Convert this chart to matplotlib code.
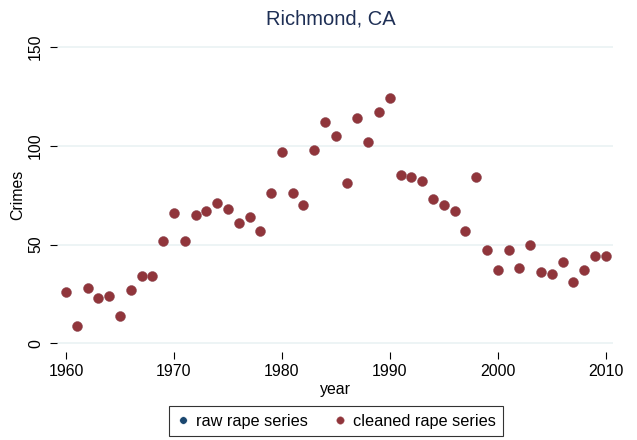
import matplotlib
matplotlib.use("Agg")
import matplotlib.pyplot as plt

plt.rcParams['font.family'] = ['Liberation Sans', 'DejaVu Sans']

# data
years = list(range(1960, 2011))
cleaned = [26, 9, 28, 23, 24, 14, 27, 34, 34, 52,
           66, 52, 65, 67, 71, 68, 61, 64, 57, 76,
           97, 76, 70, 98, 112, 105, 81, 114, 102, 117,
           124, 85, 84, 82, 73, 70, 67, 57, 84, 47,
           37, 47, 38, 50, 36, 35, 41, 31, 37, 44,
           44]
raw = list(cleaned)  # raw series sits under the cleaned one

navy = '#1a476f'
maroon = '#90353b'

fig = plt.figure(figsize=(6.37, 4.4), dpi=100)
ax = fig.add_axes([0.0895, 0.2, 0.873, 0.7136])

ax.plot(years, raw, 'o', color=navy, ms=7.2, mec='white', mew=0.3, label='raw rape series')
ax.plot(years, cleaned, 'o', color=maroon, ms=7.2, mec='#b06a6e', mew=0.3, label='cleaned rape series')

ax.set_xlim(1959.17, 2010.68)
ax.set_ylim(-4.4, 154.6)
ax.set_xticks([1960, 1970, 1980, 1990, 2000, 2010])
ax.set_yticks([0, 50, 100, 150])
ax.set_yticklabels(['0', '50', '100', '150'], rotation=90, va='center')
ax.grid(axis='y', color='#eaf2f3', lw=1.2)
ax.set_axisbelow(True)
for s in ax.spines.values():
    s.set_visible(False)
ax.tick_params(axis='both', labelsize=11.4, length=5, width=0.8, color='black')
ax.tick_params(axis='y', pad=5)

ax.set_title('Richmond, CA', fontsize=14.5, color='#1e2f55', pad=10, x=0.493)
ax.set_xlabel('year', fontsize=11.4, labelpad=2)
ax.set_ylabel('Crimes', fontsize=11.4)
ax.yaxis.set_label_coords(-0.058, 0.5)

leg = fig.legend(loc='lower center', bbox_to_anchor=(0.5275, 0.009), ncol=2, fontsize=11.7,
                 frameon=True, fancybox=False, edgecolor='black', markerscale=0.75,
                 handlelength=0.8, handletextpad=0.4, columnspacing=1.6,
                 borderpad=0.45, borderaxespad=0)
leg.get_frame().set_linewidth(0.8)

fig.savefig('out.png', dpi=100)
